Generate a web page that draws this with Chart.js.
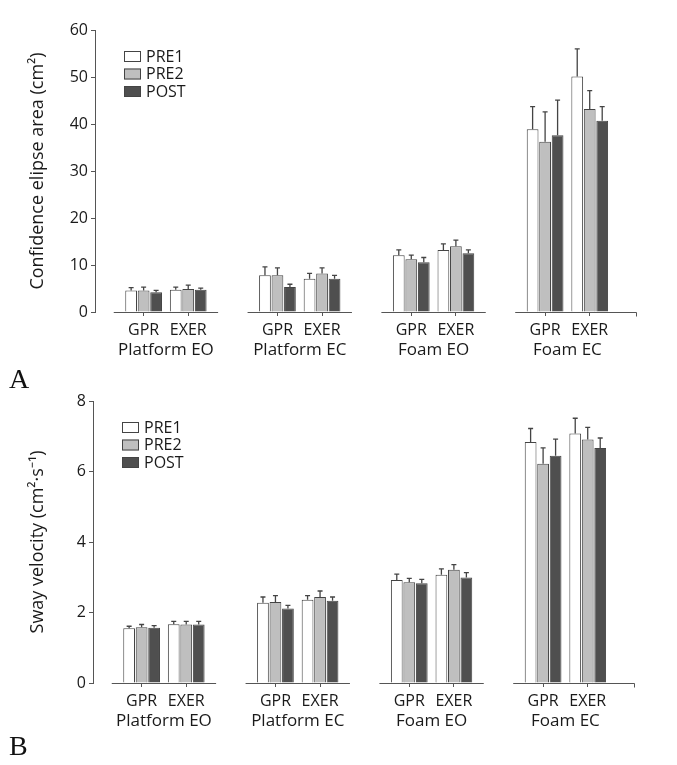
<!DOCTYPE html>
<html>
<head>
<meta charset="utf-8">
<script src="https://cdn.jsdelivr.net/npm/chart.js@4.4.0/dist/chart.umd.min.js"></script>
<style>
  body { margin: 0; background: #fff; width: 677px; height: 765px; position: relative; overflow: hidden; }
  .panel { position: absolute; left: 0; width: 677px; }
  .letter { position: absolute; left: 9px; font-family: "Liberation Serif", serif; font-size: 28px; line-height: 28px; color: #111; }
</style>
</head>
<body>
<div class="panel" style="top:0;height:382px"><canvas id="chartA"></canvas></div>
<div class="panel" style="top:382px;height:383px"><canvas id="chartB"></canvas></div>
<div class="letter" style="top:365px">A</div>
<div class="letter" style="top:732px">B</div>
<script>
const conditions = ['Platform EO', 'Platform EC', 'Foam EO', 'Foam EC'];
const groups = ['GPR', 'EXER'];
const seriesNames = ['PRE1', 'PRE2', 'POST'];

// A: confidence ellipse area (cm2), GPR/EXER per condition
const areaPRE1 = [4.6, 4.75, 7.8, 7.1, 12.1, 13.2, 38.9, 50.1];
const areaPRE2 = [4.6, 4.9, 7.8, 8.2, 11.2, 14.0, 36.2, 43.2];
const areaPOST = [4.2, 4.75, 5.3, 7.1, 10.6, 12.5, 37.6, 40.7];
const areaErrPRE1 = [0.6, 0.55, 1.8, 1.1, 1.1, 1.3, 4.8, 5.9];
const areaErrPRE2 = [0.7, 0.8, 1.6, 1.2, 0.9, 1.3, 6.4, 3.9];
const areaErrPOST = [0.4, 0.35, 0.6, 0.7, 1.0, 0.7, 7.5, 3.0];

// B: sway velocity (cm2/s)
const velPRE1 = [1.55, 1.67, 2.28, 2.36, 2.92, 3.07, 6.84, 7.08];
const velPRE2 = [1.58, 1.66, 2.30, 2.44, 2.86, 3.21, 6.22, 6.91];
const velPOST = [1.57, 1.66, 2.11, 2.33, 2.83, 2.99, 6.45, 6.67];
const velErrPRE1 = [0.06, 0.08, 0.16, 0.12, 0.17, 0.17, 0.38, 0.43];
const velErrPRE2 = [0.08, 0.09, 0.18, 0.17, 0.11, 0.15, 0.45, 0.34];
const velErrPOST = [0.06, 0.09, 0.09, 0.11, 0.11, 0.14, 0.47, 0.28];

const fills = ['#ffffff', '#bfbfbf', '#4f4f4f'];
const axisColor = '#555';
const textColor = '#1a1a1a';
const fontFamily = '"Open Sans", sans-serif';

// two bars per condition, one empty slot between conditions
const slot = i => i + Math.floor(i / 2);
const slots = conditions.flatMap((c, k) => groups.map((g, j) => slot(k * 2 + j)));

const extras = {
  id: 'extras',
  afterDatasetsDraw(chart) {
    const ctx = chart.ctx, xs = chart.scales.x, ys = chart.scales.y;
    const area = chart.chartArea;
    ctx.save();
    // error bars
    ctx.strokeStyle = '#444';
    ctx.lineWidth = 1.3;
    chart.data.datasets.forEach((ds, i) => {
      chart.getDatasetMeta(i).data.forEach((bar, j) => {
        const top = ys.getPixelForValue(ds.data[j].y + ds.errors[j]);
        ctx.beginPath();
        ctx.moveTo(bar.x, bar.y);
        ctx.lineTo(bar.x, top);
        ctx.moveTo(bar.x - 2.5, top);
        ctx.lineTo(bar.x + 2.5, top);
        ctx.stroke();
      });
    });
    // broken x axis
    ctx.strokeStyle = axisColor;
    ctx.lineWidth = 1;
    const yb = Math.round(area.bottom) + 0.5;
    conditions.forEach((c, k) => {
      const a = slot(k * 2), b = slot(k * 2 + 1);
      const last = k === conditions.length - 1;
      const x0 = xs.getPixelForValue(a - 0.67);
      const x1 = xs.getPixelForValue(b + (last ? 1.05 : 0.67));
      ctx.beginPath();
      ctx.moveTo(x0, yb);
      ctx.lineTo(x1, yb);
      if (last) {
        ctx.moveTo(Math.round(x1) - 0.5, yb);
        ctx.lineTo(Math.round(x1) - 0.5, yb + 4);
      }
      ctx.stroke();
      // condition name
      ctx.fillStyle = textColor;
      ctx.font = '17px ' + fontFamily;
      ctx.textAlign = 'center';
      ctx.textBaseline = 'middle';
      ctx.fillText(c, (xs.getPixelForValue(a) + xs.getPixelForValue(b)) / 2, area.bottom + 38);
    });
    // legend
    const lx = area.left + 29, ly = area.top + 21;
    chart.data.datasets.forEach((ds, i) => {
      const y = ly + i * 17.5;
      ctx.fillStyle = ds.backgroundColor;
      ctx.fillRect(lx, y, 17, 11);
      ctx.strokeStyle = '#444';
      ctx.strokeRect(lx + 0.5, y + 0.5, 16, 10);
      ctx.fillStyle = textColor;
      ctx.textAlign = 'left';
      ctx.textBaseline = 'middle';
      ctx.font = '16px ' + fontFamily;
      ctx.fillText(ds.label, lx + 22, y + 6);
    });
    ctx.restore();
  }
};

function makeChart(id, values, errors, yMax, yStep, yTitle, geo) {
  const datasets = seriesNames.map((name, i) => ({
    label: name,
    data: values[i].map((v, j) => ({ x: slots[j], y: v })),
    errors: errors[i],
    backgroundColor: fills[i],
    borderColor: '#444',
    borderWidth: 1,
    categoryPercentage: 0.84,
    barPercentage: 0.94
  }));
  return new Chart(document.getElementById(id), {
    type: 'bar',
    data: { datasets },
    plugins: [extras],
    options: {
      responsive: true,
      maintainAspectRatio: false,
      animation: false,
      layout: { padding: { top: geo.top, right: 677 - geo.right, bottom: 0, left: 0 } },
      plugins: { legend: { display: false }, tooltip: { enabled: false } },
      scales: {
        x: {
          type: 'linear',
          offset: false,
          min: -1.09,
          max: 11.06,
          afterFit: s => { s.height = geo.height - geo.bottom; },
          afterBuildTicks: s => { s.ticks = slots.map(v => ({ value: v })); },
          grid: { offset: false, drawOnChartArea: false, color: axisColor, tickLength: 4 },
          border: { display: false },
          ticks: {
            autoSkip: false,
            maxRotation: 0,
            padding: 5,
            color: textColor,
            font: { family: fontFamily, size: 16 },
            callback: (v, i) => groups[i % groups.length]
          }
        },
        y: {
          min: 0,
          max: yMax,
          afterFit: s => { s.width = geo.left; },
          grid: { drawOnChartArea: false, color: axisColor, tickLength: 4 },
          border: { color: axisColor, width: 1 },
          ticks: { stepSize: yStep, padding: 3, color: textColor, font: { family: fontFamily, size: 16 } },
          title: {
            display: true,
            text: yTitle,
            color: textColor,
            font: { family: fontFamily, size: 18 },
            padding: { top: 27, bottom: 0 }
          }
        }
      }
    }
  });
}

makeChart('chartA',
  [areaPRE1, areaPRE2, areaPOST],
  [areaErrPRE1, areaErrPRE2, areaErrPOST],
  60, 10, 'Confidence elipse area (cm²)',
  { left: 95, top: 30, bottom: 312, right: 637, height: 382 });

makeChart('chartB',
  [velPRE1, velPRE2, velPOST],
  [velErrPRE1, velErrPRE2, velErrPOST],
  8, 2, 'Sway velocity (cm²·s⁻¹)',
  { left: 93, top: 19, bottom: 301, right: 635, height: 383 });
</script>
</body>
</html>
